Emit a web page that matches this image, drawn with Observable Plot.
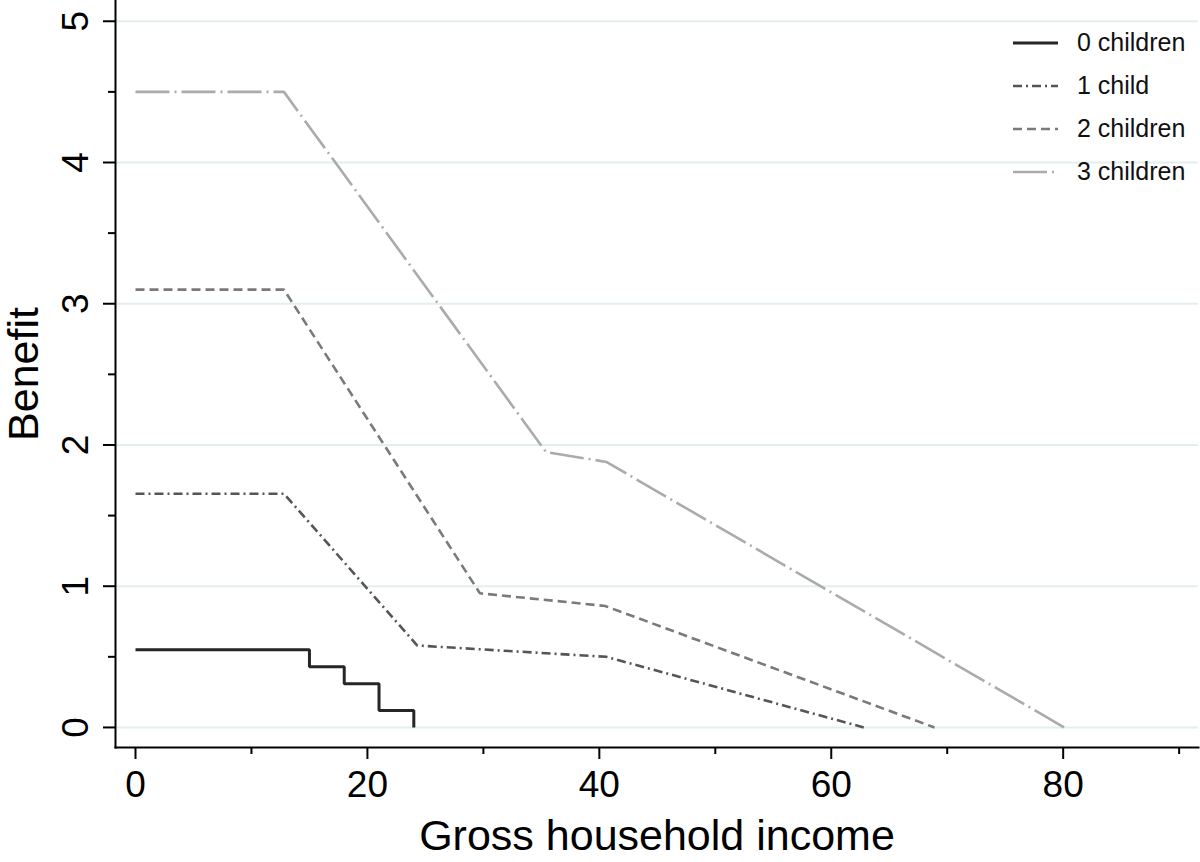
<!DOCTYPE html>
<html>
<head>
<meta charset="utf-8">
<script src="https://cdn.jsdelivr.net/npm/d3@7"></script>
<script src="https://cdn.jsdelivr.net/npm/@observablehq/plot@0.6"></script>
<style>
  html, body { margin: 0; padding: 0; background: #fff; }
  #wrap { position: relative; width: 1200px; height: 862px; font-family: "Liberation Sans", Arial, sans-serif; }
  #legend { position: absolute; left: 1010px; top: 21px; font-size: 25px; color: #111; }
  .row { display: flex; align-items: center; height: 43px; }
  .row svg { width: 50px; height: 10px; margin-right: 17px; }
</style>
</head>
<body>
<div id="wrap"></div>
<script>
// ---- data ----
const seriesNames = ["0 children", "1 child", "2 children", "3 children"];
const x0 = [0, 15, 15, 18, 18, 21, 21, 24, 24];
const y0 = [0.55, 0.55, 0.43, 0.43, 0.31, 0.31, 0.12, 0.12, 0];
const x1 = [0, 12.8, 24.3, 40.6, 62.8];
const y1 = [1.655, 1.655, 0.58, 0.50, 0];
const x2 = [0, 12.8, 29.7, 40.5, 68.9];
const y2 = [3.10, 3.10, 0.95, 0.86, 0];
const x3 = [0, 12.8, 35.4, 40.6, 80.1];
const y3 = [4.50, 4.50, 1.95, 1.88, 0];
const xMajor = [0, 20, 40, 60, 80];
const xMinor = [10, 30, 50, 70, 90];
const yMajor = [0, 1, 2, 3, 4, 5];
const yMinor = [0.5, 1.5, 2.5, 3.5, 4.5];
const xTitle = "Gross household income";
const yTitle = "Benefit";

// ---- styles ----
const styles = [
  {stroke: "#262626", dash: null, width: 3},
  {stroke: "#555555", dash: "9,4,2,4", width: 2.6},
  {stroke: "#7a7a7a", dash: "9,5", width: 2.6},
  {stroke: "#ababab", dash: "34,5,2,5", width: 2.6}
];
const xs = [x0, x1, x2, x3], ys = [y0, y1, y2, y3];
const data = xs.map((xa, i) => xa.map((x, j) => ({series: seriesNames[i], x, y: ys[i][j]})));

const lineMarks = data.map((d, i) => Plot.line(d, {
  x: "x", y: "y", stroke: styles[i].stroke, strokeWidth: styles[i].width,
  strokeDasharray: styles[i].dash ?? undefined, strokeLinejoin: "miter", strokeLinecap: "butt"
}));

const chart = Plot.plot({
  width: 1200,
  height: 862,
  marginLeft: 115,
  marginRight: 2,
  marginTop: 0,
  marginBottom: 115,
  style: {fontFamily: "Liberation Sans, Arial, sans-serif", color: "#000", background: "#fff"},
  x: {domain: [-1.725, 91.67], axis: null},
  y: {domain: [-0.142, 5.147], axis: null},
  marks: [
    Plot.gridY(yMajor, {stroke: "#e4eeef", strokeOpacity: 1, strokeWidth: 2}),
    ...lineMarks,
    Plot.frame({anchor: "bottom", stroke: "#000", strokeWidth: 2}),
    Plot.frame({anchor: "left", stroke: "#000", strokeWidth: 2}),
    Plot.axisX(xMajor, {tickSize: 12, tickPadding: 11, fontSize: 37, strokeWidth: 2, label: null, tickFormat: d => String(d)}),
    Plot.axisX(xMinor, {tickSize: 7, strokeWidth: 2, label: null, tickFormat: () => ""}),
    Plot.axisY(yMajor, {tickSize: 12, strokeWidth: 2, label: null, tickFormat: () => ""}),
    Plot.axisY(yMinor, {tickSize: 7, strokeWidth: 2, label: null, tickFormat: () => ""}),
    Plot.text(yMajor, {y: d => d, text: d => String(d), frameAnchor: "left", dx: -39, rotate: -90, textAnchor: "middle", lineAnchor: "middle", fontSize: 37, fill: "#000"}),
    Plot.text([xTitle], {text: d => d, frameAnchor: "bottom", dy: 89, lineAnchor: "middle", fontSize: 43, fill: "#000"}),
    Plot.text([yTitle], {text: d => d, frameAnchor: "left", dx: -91, rotate: -90, textAnchor: "middle", lineAnchor: "middle", fontSize: 43, fill: "#000"})
  ]
});

const wrap = document.getElementById("wrap");
wrap.appendChild(chart);

// ---- legend ----
const legend = document.createElement("div");
legend.id = "legend";
seriesNames.forEach((name, i) => {
  const row = document.createElement("div");
  row.className = "row";
  const dash = styles[i].dash ? ` stroke-dasharray="${styles[i].dash}"` : "";
  row.innerHTML = `<svg viewBox="0 0 50 10"><line x1="3" y1="5" x2="48" y2="5" stroke="${styles[i].stroke}" stroke-width="${styles[i].width}"${dash}/></svg><span>${name}</span>`;
  legend.appendChild(row);
});
wrap.appendChild(legend);
</script>
</body>
</html>
